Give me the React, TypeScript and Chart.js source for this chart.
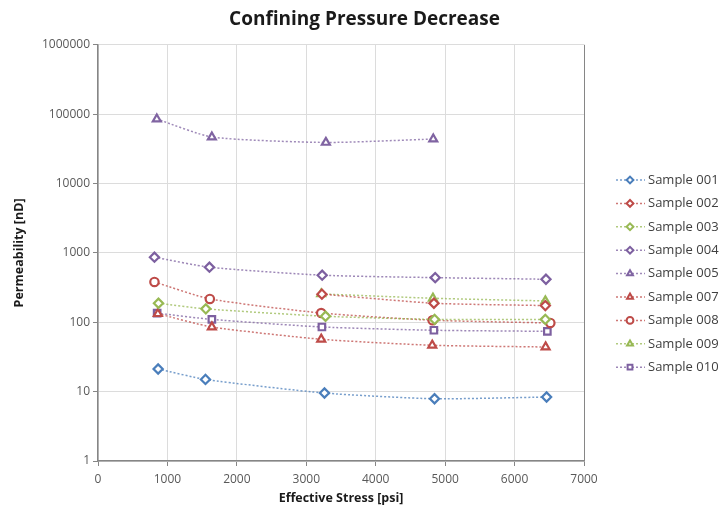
import React, { useEffect, useRef } from "react";
import { Chart, registerables } from "chart.js";
import { drawPoint } from "chart.js/helpers";

Chart.register(...registerables);

const TITLE = "Confining Pressure Decrease";
const X_TITLE = "Effective Stress [psi]";
const Y_TITLE = "Permeability [nD]";
const Y_TICKS = [1, 10, 100, 1000, 10000, 100000, 1000000];

const NAMES = [
  "Sample 001",
  "Sample 002",
  "Sample 003",
  "Sample 004",
  "Sample 005",
  "Sample 007",
  "Sample 008",
  "Sample 009",
  "Sample 010",
];

const S001_X = [866, 1548, 3262, 4847, 6461];
const S001_Y = [21.2, 15.0, 9.55, 7.9, 8.36];
const S002_X = [3225, 4838, 6443];
const S002_Y = [254, 188, 174];
const S003_X = [871, 1553, 3277, 4848, 6443];
const S003_Y = [188, 156, 122, 110, 110];
const S004_X = [813, 1605, 3229, 4857, 6452];
const S004_Y = [867, 622, 477, 440, 417];
const S005_X = [847, 1640, 3282, 4829];
const S005_Y = [85000, 46800, 39100, 43800];
const S007_X = [862, 1640, 3215, 4814, 6447];
const S007_Y = [133, 85.5, 56.9, 46.6, 44];
const S008_X = [813, 1611, 3215, 4819, 6515];
const S008_Y = [381, 217, 136, 107, 97.7];
const S009_X = [3215, 4824, 6443];
const S009_Y = [256, 222, 203];
const S010_X = [852, 1640, 3225, 4838, 6472];
const S010_Y = [135, 110, 85.5, 76.7, 74];

const XS = [S001_X, S002_X, S003_X, S004_X, S005_X, S007_X, S008_X, S009_X, S010_X];
const YS = [S001_Y, S002_Y, S003_Y, S004_Y, S005_Y, S007_Y, S008_Y, S009_Y, S010_Y];
const COLORS = ["#4A7EBB", "#BE4B48", "#98B954", "#7D60A0", "#8064A2", "#BE4B48", "#BE4B48", "#98B954", "#7D60A0"];
const STYLES = ["rectRot", "rectRot", "rectRot", "rectRot", "triangle", "triangle", "circle", "triangle", "rect"];

const FONT = "'Open Sans', 'Liberation Sans', sans-serif";

const legendPlugin = {
  id: "customLegend",
  afterDraw(chart: any) {
    const ctx = chart.ctx;
    chart.data.datasets.forEach((ds: any, i: number) => {
      const y = 180 + i * 23.4;
      ctx.save();
      ctx.setLineDash([2, 2]);
      ctx.strokeStyle = ds.borderColor;
      ctx.lineWidth = 1.5;
      ctx.beginPath();
      ctx.moveTo(616, y);
      ctx.lineTo(645, y);
      ctx.stroke();
      ctx.setLineDash([]);
      ctx.fillStyle = "#ffffff";
      ctx.strokeStyle = ds.pointBorderColor;
      ctx.lineWidth = 2;
      drawPoint(ctx, { pointStyle: ds.pointStyle, radius: 3.4, borderWidth: 2, rotation: 0 }, 630, y);
      ctx.fillStyle = "#404040";
      ctx.font = `13px ${FONT}`;
      ctx.textBaseline = "middle";
      ctx.textAlign = "left";
      ctx.fillText(ds.label, 648, y);
      ctx.restore();
    });
  },
};

export default function App() {
  const ref = useRef<HTMLCanvasElement>(null);
  useEffect(() => {
    document.body.style.margin = "0";
    const datasets = NAMES.map((name, i) => ({
      label: name,
      data: XS[i].map((x, j) => ({ x, y: YS[i][j] })),
      borderColor: COLORS[i] + "C0",
      pointBorderColor: COLORS[i],
      pointBackgroundColor: "#ffffff",
      pointStyle: STYLES[i],
      pointRadius: STYLES[i] === "circle" ? 4.2 : 4.6,
      pointBorderWidth: 2.2,
      borderWidth: 1.5,
      borderDash: [2, 2],
      tension: 0.2,
      fill: false,
      yAxisID: "y",
    }));
    const chart = new Chart(ref.current!, {
      type: "line",
      data: { datasets },
      plugins: [legendPlugin],
      options: {
        animation: false,
        responsive: false,
        maintainAspectRatio: false,
        layout: { padding: { left: 7, right: 0, top: 0, bottom: 0 } },
        plugins: {
          legend: { display: false },
          tooltip: { enabled: false },
          title: {
            display: true,
            text: TITLE,
            color: "#1a1a1a",
            font: { family: FONT, size: 19, weight: "bold" },
            padding: { top: 8, bottom: 14 },
          },
        },
        scales: {
          x: {
            type: "linear",
            min: 0,
            max: 7000,
            ticks: {
              stepSize: 1000,
              color: "#595959",
              font: { family: FONT, size: 12 },
              padding: 6,
              maxRotation: 0,
              callback: (v: any) => String(v),
            },
            grid: {
              color: (c: any) => (c.tick && c.tick.value === 7000 ? "#868686" : "#dcdcdc"),
              lineWidth: 1,
              tickLength: 5,
              tickColor: "#868686",
            },
            border: { color: "#868686", width: 1.5 },
            title: {
              display: true,
              text: X_TITLE,
              color: "#1a1a1a",
              font: { family: FONT, size: 12.5, weight: "bold" },
              padding: { top: 2, bottom: 6 },
            },
            afterFit: (s: any) => {
              s.height = 51;
            },
          },
          y: {
            type: "logarithmic",
            position: "left",
            min: 1,
            max: 1000000,
            afterBuildTicks: (s: any) => {
              s.ticks = Y_TICKS.map((v) => ({ value: v }));
            },
            ticks: {
              color: "#595959",
              font: { family: FONT, size: 12 },
              padding: 3,
              autoSkip: false,
              callback: (v: any) => String(v),
            },
            grid: {
              color: "#dcdcdc",
              lineWidth: 1,
              tickLength: 5,
              tickColor: "#868686",
            },
            border: { color: "#868686", width: 1.5 },
            title: {
              display: true,
              text: Y_TITLE,
              color: "#1a1a1a",
              font: { family: FONT, size: 12.5, weight: "bold" },
              padding: { top: 5, bottom: 4 },
            },
            afterFit: (s: any) => {
              s.width = 91;
            },
          },
          legendSpace: {
            type: "linear",
            position: "right",
            display: true,
            grid: { display: false, drawTicks: false },
            border: { display: false },
            ticks: { display: false },
            title: { display: false },
            afterFit: (s: any) => {
              s.width = 138;
            },
          },
        },
      },
    } as any);
    return () => chart.destroy();
  }, []);
  return (
    <div style={{ position: "absolute", left: 0, top: 0, width: 722, height: 512, background: "#fff" }}>
      <canvas ref={ref} width={722} height={512} style={{ width: 722, height: 512 }} />
    </div>
  );
}
